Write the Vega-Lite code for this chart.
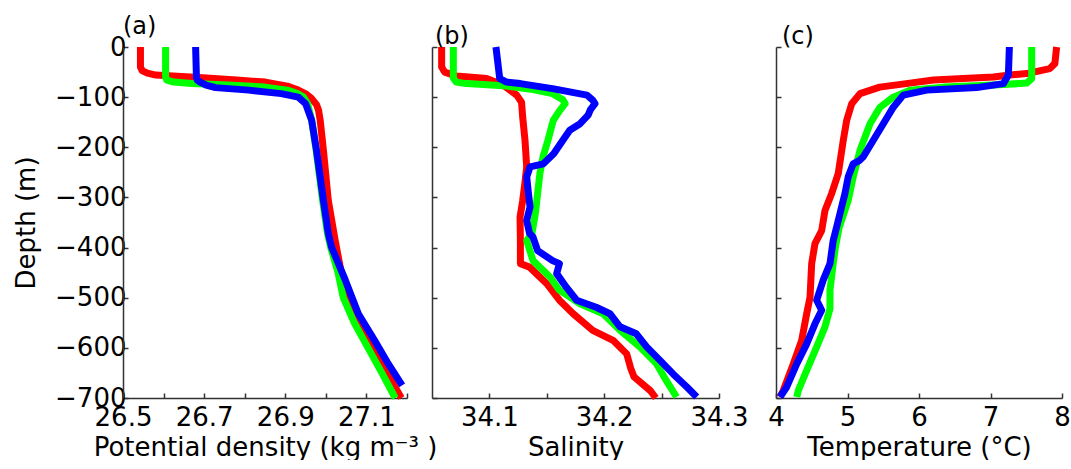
{
  "$schema": "https://vega.github.io/schema/vega-lite/v6.json",
  "background": "white",
  "padding": {"left": 13, "top": 15, "right": 5, "bottom": 0},
  "datasets": {
    "density": [
      {"s":"red","d":0,"v":26.543},{"s":"red","d":-40,"v":26.543},{"s":"red","d":-47,"v":26.547},{"s":"red","d":-52,"v":26.56},{"s":"red","d":-56,"v":26.581},{"s":"red","d":-61,"v":26.687},{"s":"red","d":-66,"v":26.78},{"s":"red","d":-70,"v":26.851},{"s":"red","d":-78,"v":26.905},{"s":"red","d":-86,"v":26.932},{"s":"red","d":-94,"v":26.952},{"s":"red","d":-102,"v":26.964},{"s":"red","d":-115,"v":26.977},{"s":"red","d":-126,"v":26.982},{"s":"red","d":-146,"v":26.986},{"s":"red","d":-206,"v":26.994},{"s":"red","d":-306,"v":27.006},{"s":"red","d":-386,"v":27.023},{"s":"red","d":-450,"v":27.038},{"s":"red","d":-500,"v":27.055},{"s":"red","d":-550,"v":27.085},{"s":"red","d":-600,"v":27.117},{"s":"red","d":-650,"v":27.151},{"s":"red","d":-700,"v":27.186},
      {"s":"green","d":0,"v":26.605},{"s":"green","d":-60,"v":26.605},{"s":"green","d":-66,"v":26.608},{"s":"green","d":-70,"v":26.625},{"s":"green","d":-73,"v":26.67},{"s":"green","d":-76,"v":26.76},{"s":"green","d":-80,"v":26.85},{"s":"green","d":-86,"v":26.905},{"s":"green","d":-93,"v":26.93},{"s":"green","d":-100,"v":26.945},{"s":"green","d":-113,"v":26.955},{"s":"green","d":-146,"v":26.965},{"s":"green","d":-206,"v":26.976},{"s":"green","d":-306,"v":26.992},{"s":"green","d":-372,"v":27.004},{"s":"green","d":-400,"v":27.012},{"s":"green","d":-450,"v":27.03},{"s":"green","d":-500,"v":27.043},{"s":"green","d":-550,"v":27.07},{"s":"green","d":-600,"v":27.104},{"s":"green","d":-650,"v":27.138},{"s":"green","d":-700,"v":27.171},
      {"s":"blue","d":0,"v":26.679},{"s":"blue","d":-60,"v":26.681},{"s":"blue","d":-66,"v":26.683},{"s":"blue","d":-70,"v":26.69},{"s":"blue","d":-76,"v":26.705},{"s":"blue","d":-81,"v":26.728},{"s":"blue","d":-86,"v":26.81},{"s":"blue","d":-93,"v":26.89},{"s":"blue","d":-100,"v":26.932},{"s":"blue","d":-113,"v":26.95},{"s":"blue","d":-146,"v":26.965},{"s":"blue","d":-206,"v":26.977},{"s":"blue","d":-306,"v":26.994},{"s":"blue","d":-372,"v":27.006},{"s":"blue","d":-399,"v":27.014},{"s":"blue","d":-465,"v":27.048},{"s":"blue","d":-532,"v":27.08},{"s":"blue","d":-585,"v":27.12},{"s":"blue","d":-632,"v":27.154},{"s":"blue","d":-675,"v":27.188}
    ],
    "salinity": [
      {"s":"red","d":0,"v":34.0584},{"s":"red","d":-40,"v":34.0584},{"s":"red","d":-50,"v":34.061},{"s":"red","d":-58,"v":34.0715},{"s":"red","d":-63,"v":34.0976},{"s":"red","d":-76,"v":34.112},{"s":"red","d":-96,"v":34.1238},{"s":"red","d":-110,"v":34.128},{"s":"red","d":-140,"v":34.129},{"s":"red","d":-186,"v":34.131},{"s":"red","d":-239,"v":34.1325},{"s":"red","d":-270,"v":34.131},{"s":"red","d":-306,"v":34.129},{"s":"red","d":-339,"v":34.1267},{"s":"red","d":-386,"v":34.127},{"s":"red","d":-432,"v":34.127},{"s":"red","d":-439,"v":34.135},{"s":"red","d":-472,"v":34.15},{"s":"red","d":-505,"v":34.161},{"s":"red","d":-532,"v":34.173},{"s":"red","d":-565,"v":34.19},{"s":"red","d":-585,"v":34.2077},{"s":"red","d":-612,"v":34.2196},{"s":"red","d":-640,"v":34.223},{"s":"red","d":-658,"v":34.226},{"s":"red","d":-685,"v":34.24},{"s":"red","d":-700,"v":34.245},
      {"s":"green","d":0,"v":34.0686},{"s":"green","d":-62,"v":34.0686},{"s":"green","d":-70,"v":34.071},{"s":"green","d":-73,"v":34.08},{"s":"green","d":-75,"v":34.095},{"s":"green","d":-78,"v":34.115},{"s":"green","d":-85,"v":34.138},{"s":"green","d":-93,"v":34.155},{"s":"green","d":-105,"v":34.164},{"s":"green","d":-113,"v":34.166},{"s":"green","d":-126,"v":34.1615},{"s":"green","d":-146,"v":34.1557},{"s":"green","d":-186,"v":34.151},{"s":"green","d":-219,"v":34.1467},{"s":"green","d":-252,"v":34.144},{"s":"green","d":-292,"v":34.142},{"s":"green","d":-333,"v":34.14},{"s":"green","d":-372,"v":34.137},{"s":"green","d":-386,"v":34.1325},{"s":"green","d":-426,"v":34.138},{"s":"green","d":-459,"v":34.153},{"s":"green","d":-485,"v":34.161},{"s":"green","d":-512,"v":34.179},{"s":"green","d":-532,"v":34.199},{"s":"green","d":-565,"v":34.2138},{"s":"green","d":-598,"v":34.231},{"s":"green","d":-632,"v":34.2457},{"s":"green","d":-665,"v":34.254},{"s":"green","d":-698,"v":34.263},
      {"s":"blue","d":0,"v":34.1057},{"s":"blue","d":-63,"v":34.109},{"s":"blue","d":-70,"v":34.115},{"s":"blue","d":-73,"v":34.127},{"s":"blue","d":-83,"v":34.155},{"s":"blue","d":-96,"v":34.185},{"s":"blue","d":-106,"v":34.19},{"s":"blue","d":-113,"v":34.192},{"s":"blue","d":-125,"v":34.188},{"s":"blue","d":-136,"v":34.186},{"s":"blue","d":-153,"v":34.179},{"s":"blue","d":-166,"v":34.17},{"s":"blue","d":-186,"v":34.164},{"s":"blue","d":-213,"v":34.156},{"s":"blue","d":-233,"v":34.147},{"s":"blue","d":-239,"v":34.1354},{"s":"blue","d":-259,"v":34.1325},{"s":"blue","d":-292,"v":34.134},{"s":"blue","d":-319,"v":34.1354},{"s":"blue","d":-346,"v":34.1325},{"s":"blue","d":-372,"v":34.135},{"s":"blue","d":-379,"v":34.138},{"s":"blue","d":-406,"v":34.142},{"s":"blue","d":-426,"v":34.155},{"s":"blue","d":-432,"v":34.161},{"s":"blue","d":-452,"v":34.1586},{"s":"blue","d":-479,"v":34.167},{"s":"blue","d":-505,"v":34.176},{"s":"blue","d":-519,"v":34.193},{"s":"blue","d":-532,"v":34.205},{"s":"blue","d":-558,"v":34.2138},{"s":"blue","d":-572,"v":34.228},{"s":"blue","d":-598,"v":34.237},{"s":"blue","d":-625,"v":34.2486},{"s":"blue","d":-652,"v":34.26},{"s":"blue","d":-678,"v":34.272},{"s":"blue","d":-698,"v":34.2806}
    ],
    "temperature": [
      {"s":"red","d":0,"v":7.925},{"s":"red","d":-33,"v":7.9},{"s":"red","d":-43,"v":7.83},{"s":"red","d":-53,"v":7.506},{"s":"red","d":-56,"v":7.27},{"s":"red","d":-60,"v":7.04},{"s":"red","d":-66,"v":6.2},{"s":"red","d":-72,"v":5.874},{"s":"red","d":-80,"v":5.45},{"s":"red","d":-93,"v":5.175},{"s":"red","d":-113,"v":5.059},{"s":"red","d":-146,"v":4.989},{"s":"red","d":-186,"v":4.941},{"s":"red","d":-252,"v":4.871},{"s":"red","d":-292,"v":4.779},{"s":"red","d":-326,"v":4.685},{"s":"red","d":-366,"v":4.639},{"s":"red","d":-392,"v":4.545},{"s":"red","d":-432,"v":4.499},{"s":"red","d":-499,"v":4.476},{"s":"red","d":-532,"v":4.429},{"s":"red","d":-585,"v":4.359},{"s":"red","d":-632,"v":4.242},{"s":"red","d":-685,"v":4.102},{"s":"red","d":-698,"v":4.056},
      {"s":"green","d":0,"v":7.576},{"s":"green","d":-63,"v":7.576},{"s":"green","d":-72,"v":7.506},{"s":"green","d":-76,"v":7.04},{"s":"green","d":-80,"v":6.34},{"s":"green","d":-86,"v":5.874},{"s":"green","d":-100,"v":5.641},{"s":"green","d":-120,"v":5.455},{"s":"green","d":-153,"v":5.315},{"s":"green","d":-206,"v":5.175},{"s":"green","d":-259,"v":5.08},{"s":"green","d":-306,"v":5.01},{"s":"green","d":-362,"v":4.88},{"s":"green","d":-400,"v":4.83},{"s":"green","d":-432,"v":4.8},{"s":"green","d":-485,"v":4.755},{"s":"green","d":-522,"v":4.755},{"s":"green","d":-558,"v":4.685},{"s":"green","d":-598,"v":4.569},{"s":"green","d":-645,"v":4.429},{"s":"green","d":-685,"v":4.312},{"s":"green","d":-698,"v":4.29},
      {"s":"blue","d":0,"v":7.264},{"s":"blue","d":-56,"v":7.25},{"s":"blue","d":-73,"v":7.18},{"s":"blue","d":-81,"v":6.807},{"s":"blue","d":-86,"v":6.108},{"s":"blue","d":-96,"v":5.78},{"s":"blue","d":-120,"v":5.641},{"s":"blue","d":-153,"v":5.501},{"s":"blue","d":-186,"v":5.361},{"s":"blue","d":-219,"v":5.221},{"s":"blue","d":-226,"v":5.17},{"s":"blue","d":-233,"v":5.08},{"s":"blue","d":-259,"v":5.01},{"s":"blue","d":-292,"v":4.965},{"s":"blue","d":-332,"v":4.895},{"s":"blue","d":-372,"v":4.825},{"s":"blue","d":-386,"v":4.8},{"s":"blue","d":-432,"v":4.755},{"s":"blue","d":-465,"v":4.66},{"s":"blue","d":-505,"v":4.569},{"s":"blue","d":-525,"v":4.639},{"s":"blue","d":-552,"v":4.545},{"s":"blue","d":-592,"v":4.429},{"s":"blue","d":-632,"v":4.29},{"s":"blue","d":-678,"v":4.15},{"s":"blue","d":-698,"v":4.056}
    ],
    "blank": [{"s":"none"}]
  },
  "hconcat": [
    {
      "title": {"text": "(a)"},
      "width": 284,
      "height": 351,
      "data": {"name": "density"},
      "mark": {"type": "line", "strokeWidth": 7, "strokeJoin": "round", "clip": false},
      "encoding": {
        "x": {"field": "v", "type": "quantitative", "scale": {"domain": [26.5, 27.2], "nice": false, "zero": false},
          "axis": {"title": "Potential density (kg m⁻³ )", "values": [26.5, 26.6, 26.7, 26.8, 26.9, 27.0, 27.1, 27.2], "format": ".1f",
            "labelExpr": "indexof(['26.5','26.7','26.9','27.1'], datum.label) >= 0 ? datum.label : ''"}},
        "y": {"field": "d", "type": "quantitative", "scale": {"domain": [-700, 0], "nice": false, "zero": false},
          "axis": {"title": "Depth (m)", "values": [-700, -600, -500, -400, -300, -200, -100, 0]}},
        "color": {"field": "s", "type": "nominal", "scale": {"domain": ["red", "green", "blue"], "range": ["#ff0000", "#00ff00", "#0000ff"]}, "legend": null},
        "order": {"field": "d", "sort": "descending"}
      }
    },
    {
      "title": {"text": "(b)", "dx": 3},
      "width": 287,
      "height": 351,
      "data": {"name": "salinity"},
      "mark": {"type": "line", "strokeWidth": 7, "strokeJoin": "round", "clip": false},
      "encoding": {
        "x": {"field": "v", "type": "quantitative", "scale": {"domain": [34.05, 34.3], "nice": false, "zero": false},
          "axis": {"title": "Salinity", "values": [34.1, 34.15, 34.2, 34.25, 34.3], "format": ".2f",
            "labelExpr": "indexof(['34.10','34.20','34.30'], datum.label) >= 0 ? format(datum.value, '.1f') : ''"}},
        "y": {"field": "d", "type": "quantitative", "scale": {"domain": [-700, 0], "nice": false, "zero": false},
          "axis": {"title": null, "labels": false, "values": [-700, -600, -500, -400, -300, -200, -100, 0]}},
        "color": {"field": "s", "type": "nominal", "scale": {"domain": ["red", "green", "blue"], "range": ["#ff0000", "#00ff00", "#0000ff"]}, "legend": null},
        "order": {"field": "d", "sort": "descending"}
      }
    },
    {
      "width": 7,
      "height": 351,
      "data": {"name": "blank"},
      "mark": {"type": "point", "opacity": 0},
      "encoding": {}
    },
    {
      "title": {"text": "(c)", "dx": 6},
      "width": 286,
      "height": 351,
      "data": {"name": "temperature"},
      "mark": {"type": "line", "strokeWidth": 7, "strokeJoin": "round", "clip": false},
      "encoding": {
        "x": {"field": "v", "type": "quantitative", "scale": {"domain": [4, 8], "nice": false, "zero": false},
          "axis": {"title": "Temperature (°C)", "values": [4, 5, 6, 7, 8], "format": "d"}},
        "y": {"field": "d", "type": "quantitative", "scale": {"domain": [-700, 0], "nice": false, "zero": false},
          "axis": {"title": null, "labels": false, "values": [-700, -600, -500, -400, -300, -200, -100, 0]}},
        "color": {"field": "s", "type": "nominal", "scale": {"domain": ["red", "green", "blue"], "range": ["#ff0000", "#00ff00", "#0000ff"]}, "legend": null},
        "order": {"field": "d", "sort": "descending"}
      }
    }
  ],
  "spacing": 25,
  "bounds": "flush",
  "resolve": {"scale": {"color": "shared"}},
  "config": {
    "view": {"stroke": null},
    "font": "DejaVu Sans",
    "axis": {
      "grid": false,
      "domainColor": "#333333",
      "tickColor": "#333333",
      "domainWidth": 1.5,
      "tickWidth": 1.5,
      "tickSize": -5,
      "labelFont": "DejaVu Sans",
      "labelFontSize": 26,
      "labelColor": "#000000",
      "labelOverlap": false,
      "labelFlush": false,
      "titleFont": "DejaVu Sans",
      "titleFontSize": 26,
      "titleFontWeight": "normal",
      "titleColor": "#000000"
    },
    "axisX": {"labelPadding": 11, "titlePadding": 4},
    "axisY": {"labelPadding": 2, "titlePadding": 15},
    "title": {"anchor": "start", "frame": "group", "fontSize": 24, "fontWeight": "normal", "font": "DejaVu Sans", "color": "#000000", "offset": -5}
  }
}
